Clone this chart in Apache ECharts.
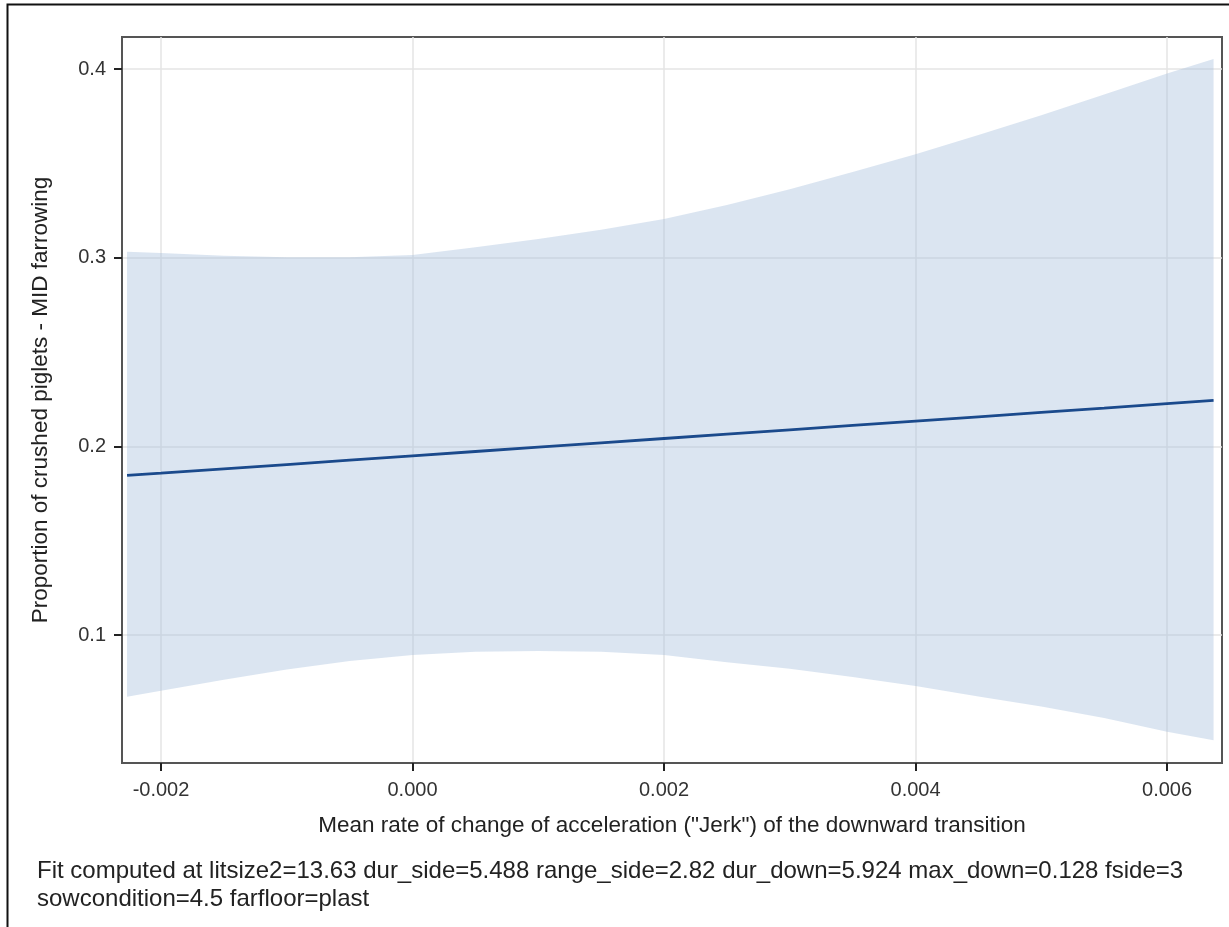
<!DOCTYPE html>
<html><head><meta charset="utf-8">
<script src="https://cdn.jsdelivr.net/npm/echarts@6/dist/echarts.min.js"></script>
<style>html,body{margin:0;padding:0;background:#fff}#c{width:1229px;height:927px}</style>
</head><body><div id="c"></div>
<script>
const xVals = [-0.00227,-0.002,-0.0015,-0.001,-0.0005,0.000,0.0005,0.001,0.0015,0.002,0.0025,0.003,0.0035,0.004,0.0045,0.005,0.0055,0.006,0.00637];
const upper = [0.3032,0.3025,0.3010,0.3003,0.3003,0.3014,0.3055,0.3100,0.3148,0.3205,0.3280,0.3363,0.3454,0.3548,0.3650,0.3755,0.3865,0.3977,0.4053];
const lower = [0.0673,0.0705,0.0763,0.0818,0.0862,0.0894,0.0912,0.0916,0.0912,0.0894,0.0856,0.0822,0.0778,0.0730,0.0675,0.0622,0.0560,0.0488,0.0443];
const fit   = [0.1846,0.1858,0.1881,0.1904,0.1927,0.1950,0.1973,0.1996,0.2019,0.2042,0.2065,0.2088,0.2111,0.2134,0.2157,0.2180,0.2203,0.2227,0.2244];
const xTicks = [-0.002,0.000,0.002,0.004,0.006];
const yTicks = [0.1,0.2,0.3,0.4];
const xTitle = 'Mean rate of change of acceleration ("Jerk") of the downward transition';
const yTitle = 'Proportion of crushed piglets - MID farrowing';
const note1 = 'Fit computed at litsize2=13.63 dur_side=5.488 range_side=2.82 dur_down=5.924 max_down=0.128 fside=3';
const note2 = 'sowcondition=4.5 farfloor=plast';

const font = '"Liberation Sans", Arial, sans-serif';
const bandData = xVals.map((x,i)=>[x,lower[i],upper[i]]);
const chart = echarts.init(document.getElementById('c'));
chart.setOption({
  animation:false,
  grid:{left:122,top:37,right:7,bottom:164,show:true,borderColor:'#555',borderWidth:2,backgroundColor:'transparent'},
  xAxis:{type:'value',min:-0.00231,max:0.006437,
    name:xTitle,nameLocation:'middle',nameGap:51,
    nameTextStyle:{fontFamily:font,fontSize:22.5,color:'#222'},
    axisLine:{show:true,onZero:false,lineStyle:{color:'#555',width:2}},
    axisTick:{show:true,length:8,customValues:xTicks,lineStyle:{color:'#222',width:2}},
    axisLabel:{customValues:xTicks,margin:17,fontFamily:font,fontSize:20,color:'#333',formatter:v=>v.toFixed(3)},
    splitLine:{show:true,customValues:xTicks,lineStyle:{color:'#e4e4e4',width:1.5}}
  },
  yAxis:{type:'value',min:0.0322,max:0.417,
    name:yTitle,nameLocation:'middle',nameGap:70,
    nameTextStyle:{fontFamily:font,fontSize:22.5,color:'#222'},
    axisLine:{show:true,onZero:false,lineStyle:{color:'#555',width:2}},
    axisTick:{show:true,length:8,customValues:yTicks,lineStyle:{color:'#222',width:2}},
    axisLabel:{customValues:yTicks,margin:16,fontFamily:font,fontSize:20,color:'#333',formatter:v=>v.toFixed(1)},
    splitLine:{show:true,customValues:yTicks,lineStyle:{color:'#e4e4e4',width:1.5}}
  },
  series:[
    {type:'custom',data:bandData,encode:{x:0,y:[1,2]},silent:true,z:1,
      renderItem:function(params,api){
        if(params.dataIndexInside!==0) return null;
        const n = params.dataInsideLength;
        const pts=[];
        for(let i=0;i<n;i++) pts.push(api.coord([api.value(0,i),api.value(2,i)]));
        for(let i=n-1;i>=0;i--) pts.push(api.coord([api.value(0,i),api.value(1,i)]));
        return {type:'polygon',shape:{points:pts},style:{fill:'rgba(165,190,220,0.4)'}};
      }},
    {type:'line',data:xVals.map((x,i)=>[x,fit[i]]),symbol:'none',lineStyle:{color:'#1b4a8c',width:2.8},z:5}
  ],
  graphic:[
    {type:'rect',shape:{x:7.5,y:4.5,width:1260,height:960},style:{fill:'none',stroke:'#111',lineWidth:2},silent:true},
    {type:'text',left:37,top:859,style:{text:note1,font:'24px '+font,fill:'#222'}},
    {type:'text',left:37,top:887,style:{text:note2,font:'24px '+font,fill:'#222'}}
  ]
});
</script></body></html>
